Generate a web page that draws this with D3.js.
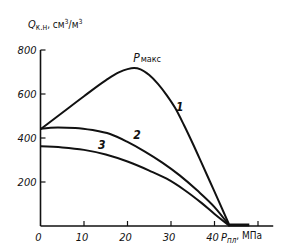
<!DOCTYPE html>
<html>
<head>
<meta charset="utf-8">
<script src="https://cdn.jsdelivr.net/npm/d3@7"></script>
<style>
  body { margin: 0; background: #fff; }
  svg text { font-family: "DejaVu Sans Condensed", "Liberation Sans Narrow", sans-serif; font-style: italic; fill: #111; }
</style>
</head>
<body>
<svg id="chart" width="285" height="249"></svg>
<script>
// pressure, MPa / gas content, cm3/m3
const p1 = [0, 5, 10, 15, 18, 20, 21.5, 23, 25, 27, 29, 31, 33, 35, 37, 39, 41, 43.5];
const q1 = [440, 515, 590, 662, 698, 713, 718, 712, 686, 646, 595, 535, 458, 375, 288, 200, 112, 0];
const p2 = [0, 4, 8, 12, 16, 20, 24, 28, 32, 36, 40, 43.5];
const q2 = [442, 448, 446, 436, 418, 382, 338, 288, 230, 162, 86, 0];
const p3 = [0, 5, 10, 15, 20, 25, 29, 33, 37, 40, 43.5];
const q3 = [362, 357, 346, 325, 293, 252, 215, 165, 105, 55, 0];
const pTail = [43.5, 48];
const qTail = [0, 0];
const xTicks = [10, 20, 30, 40, 50];
const xTickLabels = ['0', '10', '20', '30', '40'];
const yTicks = [200, 400, 600, 800];
const curveNames = ['1', '2', '3'];
const curveLabelAt = [[32, 541], [22.2, 414], [14.1, 368]];

const svg = d3.select('#chart');
const x = d3.scaleLinear().domain([0, 50]).range([40.5, 258]);
const y = d3.scaleLinear().domain([0, 800]).range([226, 50]);

// axes
svg.append('line')
    .attr('x1', x(0)).attr('x2', x(0))
    .attr('y1', y(0)).attr('y2', y(800))
    .attr('stroke', '#111').attr('stroke-width', 1.6);
svg.append('line')
    .attr('x1', x(0)).attr('x2', x(53.5))
    .attr('y1', y(0)).attr('y2', y(0))
    .attr('stroke', '#111').attr('stroke-width', 1.6);

// y ticks point inward
svg.selectAll('line.ytick').data(yTicks).enter().append('line')
    .attr('class', 'ytick')
    .attr('x1', x(0)).attr('x2', x(0) + 5)
    .attr('y1', d => y(d)).attr('y2', d => y(d))
    .attr('stroke', '#111').attr('stroke-width', 1.2);
svg.selectAll('text.ylab').data(yTicks).enter().append('text')
    .attr('class', 'ylab')
    .attr('x', x(0) - 4).attr('y', d => y(d))
    .attr('dy', '0.35em')
    .attr('text-anchor', 'end')
    .style('font-size', '11px')
    .text(d => d);

// x ticks point up
svg.selectAll('line.xtick').data(xTicks).enter().append('line')
    .attr('class', 'xtick')
    .attr('x1', d => x(d)).attr('x2', d => x(d))
    .attr('y1', y(0)).attr('y2', y(0) - 5)
    .attr('stroke', '#111').attr('stroke-width', 1.2);
svg.selectAll('text.xlab').data(xTickLabels).enter().append('text')
    .attr('class', 'xlab')
    .attr('x', d => x(+d) - 2).attr('y', y(0) + 15)
    .attr('text-anchor', 'middle')
    .style('font-size', '11px')
    .text(d => d);

// axis titles
let yt = svg.append('text').attr('x', 28).attr('y', 28).style('font-size', '10px');
yt.append('tspan').style('font-size', '11px').text('Q');
yt.append('tspan').attr('dy', 2).style('font-size', '8px').style('font-style', 'normal').text('к.н');
yt.append('tspan').attr('dy', -2).style('font-style', 'normal').text(', см');
yt.append('tspan').attr('dy', -4).style('font-size', '7px').style('font-style', 'normal').text('3');
yt.append('tspan').attr('dy', 4).style('font-style', 'normal').text('/м');
yt.append('tspan').attr('dy', -4).style('font-size', '7px').style('font-style', 'normal').text('3');

let xt = svg.append('text').attr('x', 221).attr('y', y(0) + 15).style('font-size', '11px');
xt.append('tspan').text('P');
xt.append('tspan').attr('dy', 2).style('font-size', '8px').text('пл');
xt.append('tspan').attr('dy', -4).style('font-size', '10px').style('font-style', 'normal').text(', МПа');

// curves
const line = d3.line()
    .x(d => x(d[0])).y(d => y(d[1]))
    .curve(d3.curveMonotoneX);
[[p1, q1], [p2, q2], [p3, q3]].forEach(function(s){
    svg.append('path')
        .datum(d3.zip(s[0], s[1]))
        .attr('d', line)
        .attr('fill', 'none')
        .attr('stroke', '#111')
        .attr('stroke-width', 2);
});
svg.append('path')
    .datum(d3.zip(pTail, qTail))
    .attr('d', d3.line().x(d => x(d[0])).y(d => y(d[1]) - 1))
    .attr('fill', 'none')
    .attr('stroke', '#111')
    .attr('stroke-width', 3);

// curve numbers
svg.selectAll('text.cname').data(curveNames).enter().append('text')
    .attr('class', 'cname')
    .attr('x', (d, i) => x(curveLabelAt[i][0]))
    .attr('y', (d, i) => y(curveLabelAt[i][1]))
    .attr('dy', '0.35em')
    .attr('text-anchor', 'middle')
    .style('font-size', '12px')
    .style('font-weight', 'bold')
    .text(d => d);

let pm = svg.append('text').attr('x', x(21.3)).attr('y', y(745)).style('font-size', '12px');
pm.append('tspan').text('P');
pm.append('tspan').attr('dx', 1).style('font-size', '9px').style('font-style', 'normal').text('макс');
</script>
</body>
</html>
